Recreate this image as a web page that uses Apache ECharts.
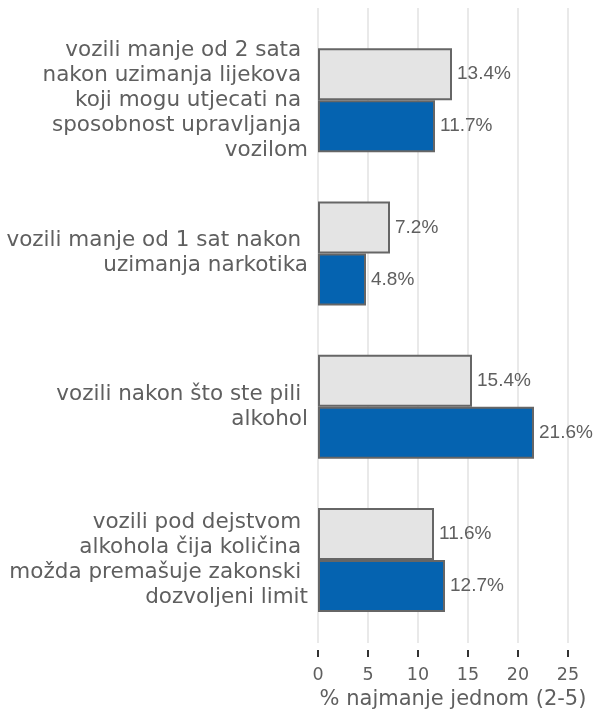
<!DOCTYPE html>
<html>
<head>
<meta charset="utf-8">
<script src="https://cdn.jsdelivr.net/npm/echarts@6/dist/echarts.min.js"></script>
<style>
html,body{margin:0;padding:0;background:#fff;}
#chart{width:598px;height:714px;}
</style>
</head>
<body>
<div id="chart"></div>
<script>
const categories = [
  "vozili manje od 2 sata \nnakon uzimanja lijekova \nkoji mogu utjecati na \nsposobnost upravljanja \nvozilom",
  "vozili manje od 1 sat nakon \nuzimanja narkotika",
  "vozili nakon što ste pili \nalkohol",
  "vozili pod dejstvom \nalkohola čija količina \nmožda premašuje zakonski \ndozvoljeni limit"
];
const seriesGrey = [13.4, 7.2, 15.4, 11.6];
const seriesBlue = [11.7, 4.8, 21.6, 12.7];
const xTicks = [0, 5, 10, 15, 20, 25];
const xAxisName = "% najmanje jednom (2-5)";

const chart = echarts.init(document.getElementById('chart'), null, {renderer: 'canvas'});
const labelStyle = {
  show: true, position: 'right', distance: 5,
  formatter: p => p.value.toFixed(1) + '%',
  fontFamily: 'Liberation Sans, Arial, sans-serif', fontSize: 19, color: '#5f5f5f'
};
chart.setOption({
  animation: false,
  backgroundColor: '#ffffff',
  grid: [
    {left: 318, right: 30, top: 8, height: 635, outerBoundsMode: 'none', containLabel: false},
    {left: 318, right: 30, top: 23.5, height: 613, outerBoundsMode: 'none', containLabel: false}
  ],
  xAxis: [
    {
      gridIndex: 0, type: 'value', min: xTicks[0], max: xTicks[xTicks.length - 1], interval: 5,
      offset: 7,
      axisLine: {show: false},
      axisTick: {show: true, length: 7, lineStyle: {color: '#333333', width: 2}},
      splitLine: {show: true, lineStyle: {color: '#e2e2e2', width: 1.5}},
      axisLabel: {margin: 16, fontFamily: 'DejaVu Sans, Verdana, sans-serif', fontSize: 17.5, color: '#5f5f5f'},
      name: xAxisName, nameLocation: 'middle', nameGap: 38,
      nameTextStyle: {fontFamily: 'DejaVu Sans, Verdana, sans-serif', fontSize: 21, color: '#5f5f5f', padding: [0, 0, 0, 20]}
    },
    {
      gridIndex: 1, type: 'value', min: xTicks[0], max: xTicks[xTicks.length - 1],
      show: false, splitLine: {show: false}
    }
  ],
  yAxis: [
    {gridIndex: 0, type: 'category', data: categories, show: false},
    {
      gridIndex: 1, type: 'category', data: categories, inverse: true,
      axisLine: {show: false}, axisTick: {show: false},
      axisLabel: {
        margin: 10, align: 'right',
        fontFamily: 'DejaVu Sans, Verdana, sans-serif', fontSize: 21.5, lineHeight: 25, color: '#5f5f5f'
      }
    }
  ],
  series: [
    {
      name: 'A', type: 'bar', xAxisIndex: 1, yAxisIndex: 1, data: seriesGrey,
      barWidth: 52, barGap: '0%',
      itemStyle: {color: '#e4e4e4', borderColor: '#666666', borderWidth: 2},
      label: labelStyle
    },
    {
      name: 'B', type: 'bar', xAxisIndex: 1, yAxisIndex: 1, data: seriesBlue,
      barWidth: 52, barGap: '0%',
      itemStyle: {color: '#0563b0', borderColor: '#666666', borderWidth: 2},
      label: labelStyle
    }
  ]
});
</script>
</body>
</html>
